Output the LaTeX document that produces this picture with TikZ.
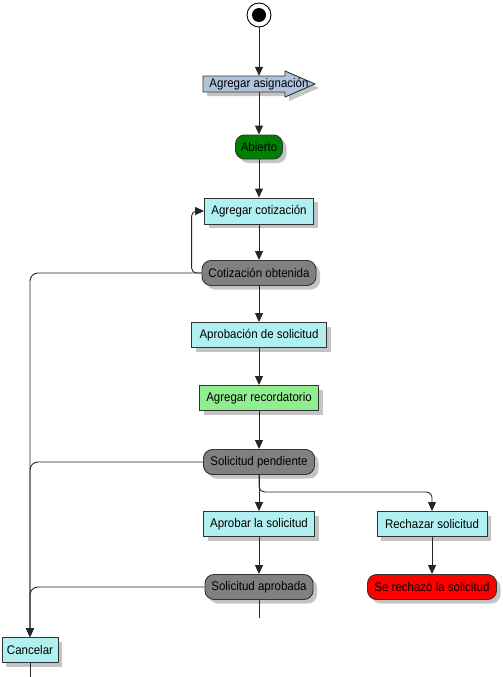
\documentclass[tikz,border=0pt]{standalone}
\usepackage{fontspec}
\setmainfont{Liberation Sans}[FakeStretch=0.92]
\usetikzlibrary{arrows.meta,shadows}
\definecolor{boxc}{HTML}{B0F0F0}
\definecolor{greenbox}{HTML}{90EE90}
\definecolor{stgray}{HTML}{808080}
\definecolor{darkgreen}{HTML}{008000}
\definecolor{asigc}{HTML}{B0C4DE}
\definecolor{shadowc}{HTML}{C4C4C4}
\begin{document}
\begin{tikzpicture}[x=1pt,y=-1pt,
  font=\fontsize{12.5}{14}\selectfont,
  shade/.style={drop shadow={shadow xshift=4pt,shadow yshift=-4pt,fill=shadowc,opacity=1}},
  act/.style={draw=black!80, fill=boxc, line width=0.9pt, inner sep=0pt, minimum height=25, shade},
  state/.style={act, rounded corners=9pt, fill=stgray},
  flow/.style={draw=black!85, line width=0.9pt, -{Triangle[length=9pt,width=8pt]}},
  line/.style={draw=black!85, line width=0.9pt},
]
\useasboundingbox (0,0) rectangle (503,677);

% initial node
\node[circle, draw=black, line width=0.9pt, minimum size=24, inner sep=0, fill=white] (init) at (259,15) {};
\node[circle, fill=black, minimum size=14, inner sep=0] (initdot) at (259,15) {};

% Agregar asignacion (arrow shape)
\fill[shadowc] (207,80) -- (289,80) -- (289,75) -- (319,88) -- (289,101) -- (289,96) -- (207,96) -- cycle;
\draw[fill=asigc, draw=black!80, line width=0.9pt] (203,76) -- (285,76) -- (285,71) -- (315,84) -- (285,97) -- (285,92) -- (203,92) -- cycle;
\node[minimum width=112, minimum height=16, inner sep=0] (asig) at (259,84) {Agregar asignación};

% nodes
\node[state, fill=darkgreen, minimum width=47, minimum height=24] (abierto) at (259,147) {Abierto};
\node[act, minimum width=109, minimum height=26] (agc) at (259,211) {Agregar cotización};
\node[state, minimum width=114] (cot) at (259,273) {Cotización obtenida};
\node[act, minimum width=135] (aprob) at (259,335) {Aprobación de solicitud};
\node[act, fill=greenbox, minimum width=119] (recor) at (259,398) {Agregar recordatorio};
\node[state, minimum width=111] (sp) at (259,462) {Solicitud pendiente};
\node[act, minimum width=111] (aprla) at (259,524) {Aprobar la solicitud};
\node[act, minimum width=110] (rech) at (432,524) {Rechazar solicitud};
\node[state, minimum width=108] (sa) at (259,587) {Solicitud aprobada};
\node[state, fill=red, minimum width=129] (serech) at (432,587) {Se rechazó la solicitud};
\node[act, minimum width=56] (cancel) at (30,650) {Cancelar};

\coordinate (saend) at (259,618);
\coordinate (cend) at (30,677);

% connectors
\draw[flow] (init.south) -- (asig.north);
\draw[flow] (asig.south) -- (abierto.north);
\draw[flow] (abierto.south) -- (agc.north);
\draw[flow] (agc.south) -- (cot.north);
\draw[flow, rounded corners=5pt] (cot.west) -- ++(-10,0) |- (agc.west);
\draw[flow, rounded corners=8pt] (cot.west) -| (cancel.north);
\draw[flow] (cot.south) -- (aprob.north);
\draw[flow] (aprob.south) -- (recor.north);
\draw[flow] (recor.south) -- (sp.north);
\draw[flow, rounded corners=8pt] (sp.west) -| (cancel.north);
\draw[flow] (sp.south) -- (aprla.north);
\draw[flow, rounded corners=6pt] (sp.south) -- ++(0,17) -| (rech.north);
\draw[flow] (aprla.south) -- (sa.north);
\draw[flow] (rech.south) -- (serech.north);
\draw[flow, rounded corners=8pt] (sa.west) -| (cancel.north);
\draw[line] (sa.south) -- (saend);
\draw[line] (cancel.south) -- (cend);
\end{tikzpicture}
\end{document}
